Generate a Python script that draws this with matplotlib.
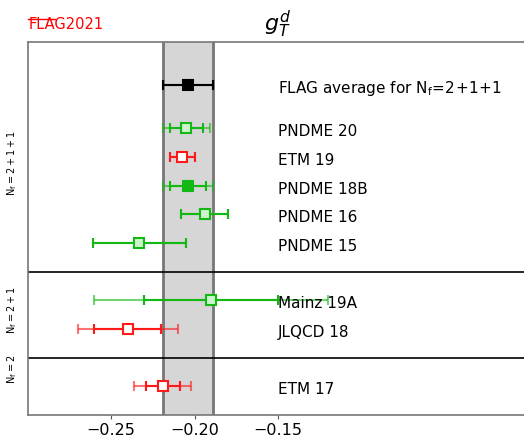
import matplotlib.pyplot as plt
from matplotlib.lines import Line2D

# g_T^d results, rows from top to bottom
labels = ["FLAG average for $\\mathsf{N_f\\!=\\!2\\!+\\!1\\!+\\!1}$", "PNDME 20", "ETM 19",
          "PNDME 18B", "PNDME 16", "PNDME 15", "Mainz 19A", "JLQCD 18", "ETM 17"]
ypos = [11.5, 10, 9, 8, 7, 6, 4, 3, 1]
central = [-0.204, -0.205, -0.2075, -0.204, -0.194, -0.233, -0.190, -0.240, -0.219]
err_stat = [0.015, 0.010, 0.0075, 0.011, 0.014, 0.028, 0.040, 0.020, 0.010]
err_tot = [0.015, 0.014, 0.0075, 0.015, 0.014, 0.028, 0.070, 0.030, 0.017]
kind = ["avg", "green_open", "red_open", "green_full", "green_open", "green_open",
        "green_open", "red_open", "red_open"]

flag_avg = -0.204
flag_err = 0.015

group_labels = ["$\\mathsf{N_f=2+1+1}$", "$\\mathsf{N_f=2+1}$", "$\\mathsf{N_f=2}$"]
group_ypos = [8.8, 3.66, 1.6]
dividers = [5, 2]

GREEN = "#14b814"
LIGHTGREEN = "#ccf5cc"
RED = "#ff1a1a"

styles = {
    "avg": dict(color="black", mfc="black"),
    "green_open": dict(color=GREEN, mfc=LIGHTGREEN),
    "green_full": dict(color=GREEN, mfc=GREEN),
    "red_open": dict(color=RED, mfc="white"),
}

fig = plt.figure(figsize=(5.24, 4.4), dpi=100)
ax = fig.add_axes([0.0529, 0.0568, 0.955, 0.8471])

# band of the FLAG average
ax.axvspan(flag_avg - flag_err, flag_avg + flag_err, color="#d6d6d6", zorder=0)
ax.axvline(flag_avg - flag_err, color="#777777", lw=2, zorder=1)
ax.axvline(flag_avg + flag_err, color="#777777", lw=2, zorder=1)

for y in dividers:
    ax.axhline(y, color="black", lw=1.2, zorder=2)

for lab, y, c, es, et, k in zip(labels, ypos, central, err_stat, err_tot, kind):
    st = styles[k]
    ax.errorbar(c, y, xerr=et, fmt="none", ecolor=st["color"], alpha=0.6,
                elinewidth=1.5, capsize=3.5, capthick=1.5, zorder=3)
    ax.errorbar(c, y, xerr=es, fmt="s", color=st["color"], mfc=st["mfc"],
                mec=st["color"], ms=7.5, mew=1.5, elinewidth=1.5,
                capsize=3.5, capthick=1.5, zorder=4)
    ax.text(-0.15, y - 0.12, lab, fontsize=11, va="center", ha="left", zorder=5)

# N_f group labels in the left margin
for lab, y in zip(group_labels, group_ypos):
    ax.text(0.023, y, lab, rotation=90, fontsize=7, ha="center", va="center",
            transform=ax.get_yaxis_transform().__class__(fig.transFigure, ax.transData))

ax.set_xlim(-0.3, 0.0)
ax.set_ylim(0, 13)
ax.set_xticks([-0.25, -0.20, -0.15])
ax.set_xticklabels(["\u22120.25", "\u22120.20", "\u22120.15"])
ax.tick_params(axis="x", labelsize=11.5, length=3, pad=3, color="#555555")
ax.set_yticks([])
for s in ax.spines.values():
    s.set_color("#777777")
    s.set_linewidth(1.2)

ax.set_title("$g_T^d$", fontsize=16, pad=8)

# FLAG logo: bar over "FLA"
fig.text(0.054, 0.933, "FLAG2021", color="red", fontsize=10.5, ha="left", va="baseline")
fig.canvas.draw()
probe = fig.text(0.054, 0.933, "FLA", color="red", fontsize=10.5, ha="left",
                 va="baseline", alpha=0)
bb = probe.get_window_extent(fig.canvas.get_renderer())
x0, x1 = bb.x0 / fig.bbox.width, bb.x1 / fig.bbox.width
fig.add_artist(Line2D([x0, x1], [0.957, 0.957], color="red", lw=1.0,
                      transform=fig.transFigure))

fig.savefig("out.png", dpi=100)
